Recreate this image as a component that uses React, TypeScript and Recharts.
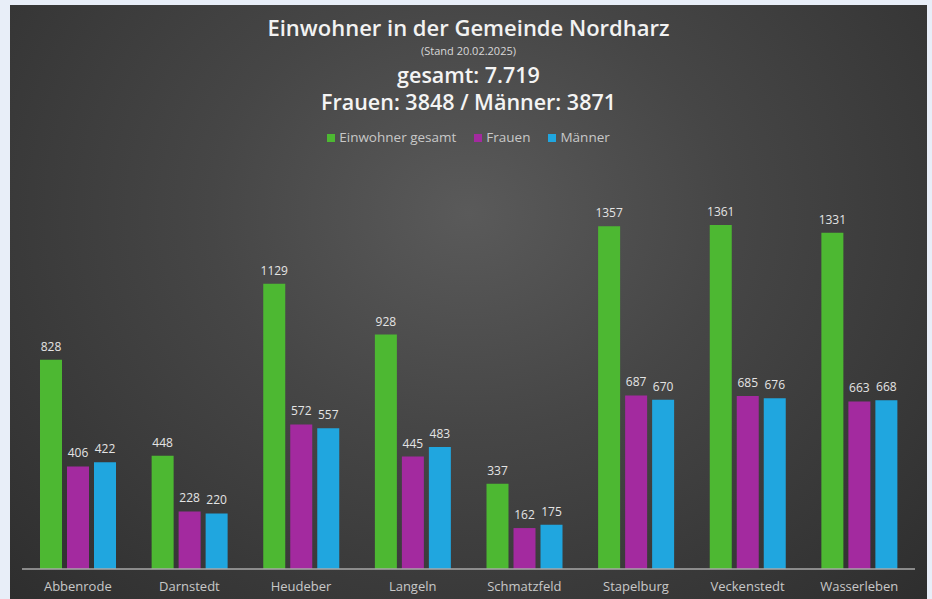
import { BarChart, Bar, XAxis, YAxis, LabelList } from 'recharts';

const orte = ['Abbenrode', 'Darnstedt', 'Heudeber', 'Langeln', 'Schmatzfeld', 'Stapelburg', 'Veckenstedt', 'Wasserleben'];
const gesamt = [828, 448, 1129, 928, 337, 1357, 1361, 1331];
const frauen = [406, 228, 572, 445, 162, 687, 685, 663];
const maenner = [422, 220, 557, 483, 175, 670, 676, 668];

const data = orte.map((name, i) => ({
  name,
  gesamt: gesamt[i],
  frauen: frauen[i],
  maenner: maenner[i],
}));

const GREEN = '#4db832';
const PURPLE = '#a32a9f';
const BLUE = '#20a6df';
const FONT = '"Open Sans", "Noto Sans", sans-serif';

const legendItems = [
  { label: 'Einwohner gesamt', color: GREEN },
  { label: 'Frauen', color: PURPLE },
  { label: 'Männer', color: BLUE },
];

const line = (top: number, size: number, color: string, weight: number) => ({
  position: 'absolute' as const,
  top,
  width: '100%',
  textAlign: 'center' as const,
  color,
  fontSize: size,
  fontWeight: weight,
  lineHeight: 1,
});

export default function App() {
  return (
    <div style={{ position: 'absolute', left: 0, top: 0, width: 932, height: 599, background: '#e8eef8', overflow: 'hidden', fontFamily: FONT }}>
      <div
        style={{
          position: 'absolute',
          left: 10,
          top: 5,
          width: 917,
          height: 594,
          background: 'radial-gradient(ellipse at 50% 35%, #5a5a5a 0%, #464646 40%, #2e2e2e 100%)',
        }}
      >
        <div style={line(11, 22, '#f2f2f2', 600)}>Einwohner in der Gemeinde Nordharz</div>
        <div style={line(39.5, 11, '#d8d8d8', 400)}>(Stand 20.02.2025)</div>
        <div style={line(59, 21.5, '#f4f4f4', 600)}>gesamt: 7.719</div>
        <div style={line(86, 21.5, '#f4f4f4', 600)}>Frauen: 3848 / Männer: 3871</div>
        <div style={{ position: 'absolute', top: 126, width: '100%', display: 'flex', justifyContent: 'center', gap: 18, color: '#c8c8c8', fontSize: 13.5, lineHeight: 1 }}>
          {legendItems.map((it) => (
            <div key={it.label} style={{ display: 'flex', alignItems: 'center', gap: 4 }}>
              <span style={{ display: 'inline-block', width: 8, height: 8, background: it.color }} />
              <span>{it.label}</span>
            </div>
          ))}
        </div>
        <div style={{ position: 'absolute', left: 0, top: 0 }}>
          <BarChart
            width={917}
            height={594}
            data={data}
            margin={{ top: 185, right: 12, left: 12, bottom: 0 }}
            barSize={22}
            barGap={5}
          >
            <XAxis
              dataKey="name"
              height={30}
              tickLine={false}
              tickMargin={7}
              axisLine={{ stroke: '#a8a8a8', strokeWidth: 1.5 }}
              tick={{ fill: '#c8c8c8', fontSize: 13, fontFamily: FONT }}
              interval={0}
            />
            <YAxis hide domain={[0, 1500]} />
            <Bar dataKey="gesamt" fill={GREEN} isAnimationActive={false}>
              <LabelList dataKey="gesamt" position="top" offset={9} fill="#e4e4e4" fontSize={12} fontFamily={FONT} />
            </Bar>
            <Bar dataKey="frauen" fill={PURPLE} isAnimationActive={false}>
              <LabelList dataKey="frauen" position="top" offset={9} fill="#e4e4e4" fontSize={12} fontFamily={FONT} />
            </Bar>
            <Bar dataKey="maenner" fill={BLUE} isAnimationActive={false}>
              <LabelList dataKey="maenner" position="top" offset={9} fill="#e4e4e4" fontSize={12} fontFamily={FONT} />
            </Bar>
          </BarChart>
        </div>
      </div>
    </div>
  );
}
